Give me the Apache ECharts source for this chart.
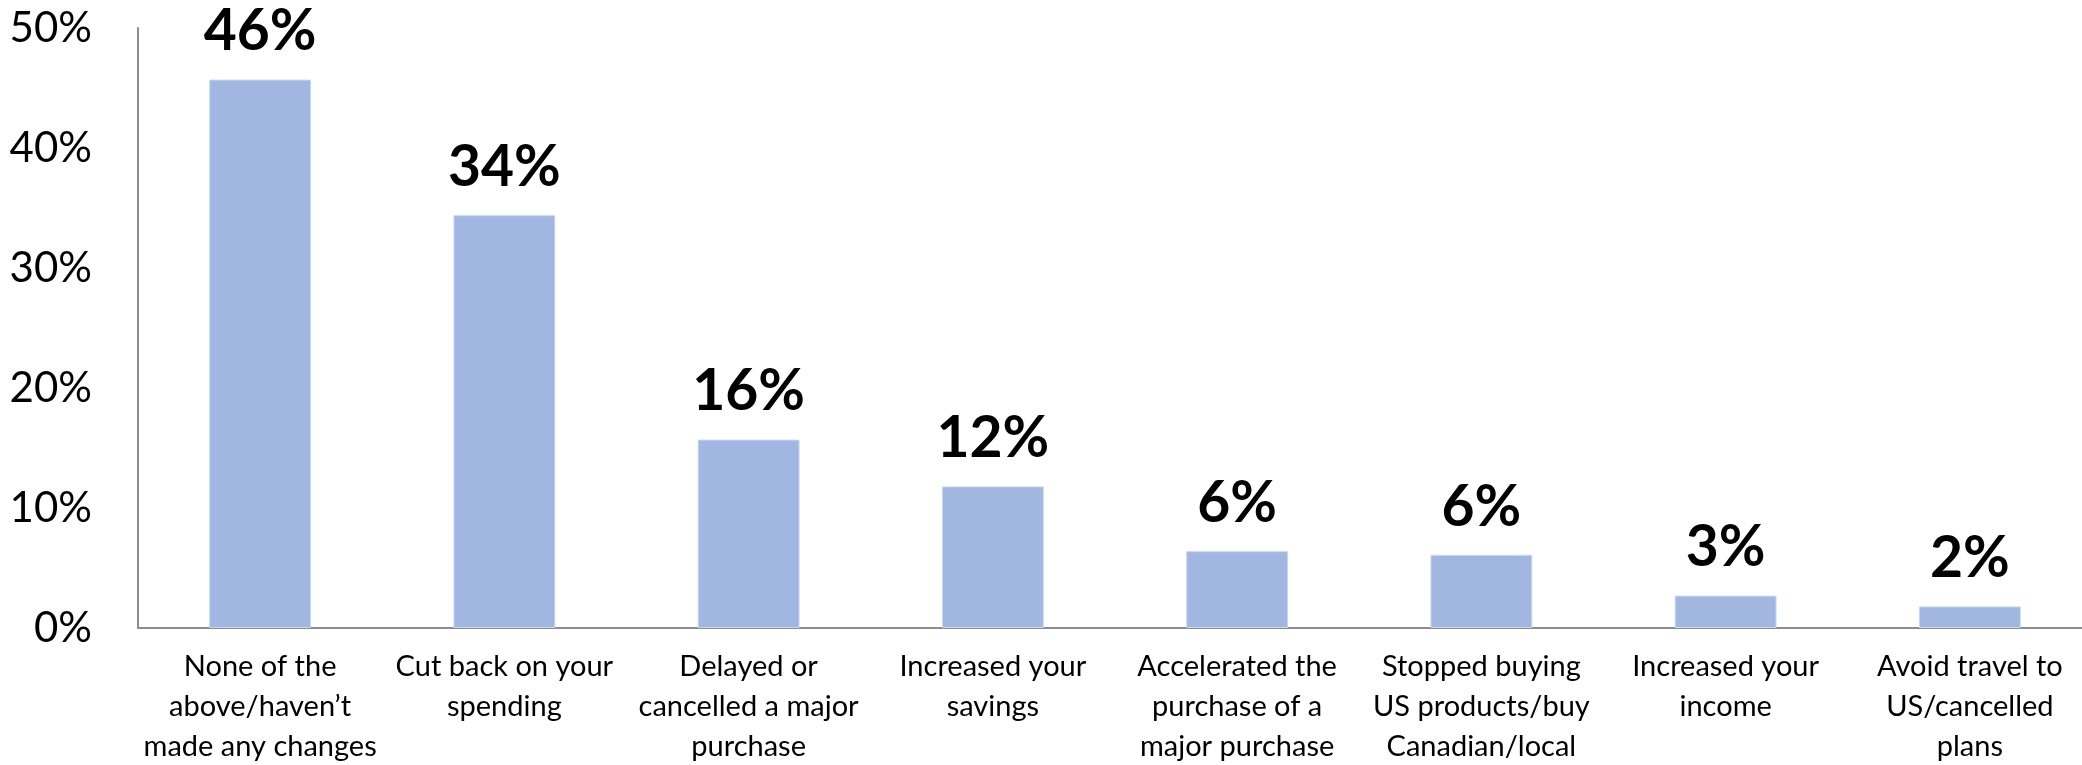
<!DOCTYPE html>
<html>
<head>
<meta charset="utf-8">
<title>Changes made</title>
<script src="https://cdn.jsdelivr.net/npm/echarts@6/dist/echarts.min.js"></script>
<style>
  html, body { margin: 0; padding: 0; background: #fff; }
  #chart { width: 2082px; height: 765px; }
</style>
</head>
<body>
<div id="chart"></div>
<script>
// values (percent of respondents)
const categories = [
  'None of the\nabove/haven’t\nmade any changes',
  'Cut back on your\nspending',
  'Delayed or\ncancelled a major\npurchase',
  'Increased your\nsavings',
  'Accelerated the\npurchase of a\nmajor purchase',
  'Stopped buying\nUS products/buy\nCanadian/local',
  'Increased your\nincome',
  'Avoid travel to\nUS/cancelled\nplans',
];
const shares = [45.7, 34.4, 15.7, 11.8, 6.4, 6.1, 2.7, 1.8];
const axisMin = 0;
const axisMax = 50;
const axisStep = 10;

const FONT = 'Lato, "Open Sans", sans-serif';
const chart = echarts.init(document.getElementById('chart'));

// the plot area runs a little past the right edge of the picture,
// so the v6 outer-bounds squeeze is switched off
chart.setOption({
  animation: false,
  grid: {
    left: 138, right: -10, top: 28, bottom: 137,
    containLabel: false,
    outerBoundsMode: 'none',
  },
  xAxis: {
    type: 'category',
    data: categories,
    axisLine: { lineStyle: { color: '#8c8c8c', width: 2 } },
    axisTick: { show: false },
    axisLabel: {
      interval: 0,
      margin: 19,
      color: '#000',
      fontFamily: FONT,
      fontSize: 29,
      lineHeight: 40,
    },
  },
  yAxis: {
    type: 'value',
    min: axisMin,
    max: axisMax,
    interval: axisStep,
    splitLine: { show: false },
    axisTick: { show: false },
    axisLine: { show: true, lineStyle: { color: '#8c8c8c', width: 2 } },
    axisLabel: {
      margin: 46,
      color: '#000',
      fontFamily: FONT,
      fontSize: 42,
      formatter: '{value}%',
    },
  },
  series: [{
    type: 'bar',
    data: shares,
    barWidth: '41.7%',
    itemStyle: { color: '#a1b7e1', borderColor: '#c9d7f0', borderWidth: 1 },
    label: {
      show: true,
      position: 'top',
      distance: 19,
      color: '#000',
      fontFamily: FONT,
      fontWeight: 'bold',
      fontSize: 57,
      formatter: (p) => `${Math.round(p.value)}%`,
    },
  }],
});
</script>
</body>
</html>
